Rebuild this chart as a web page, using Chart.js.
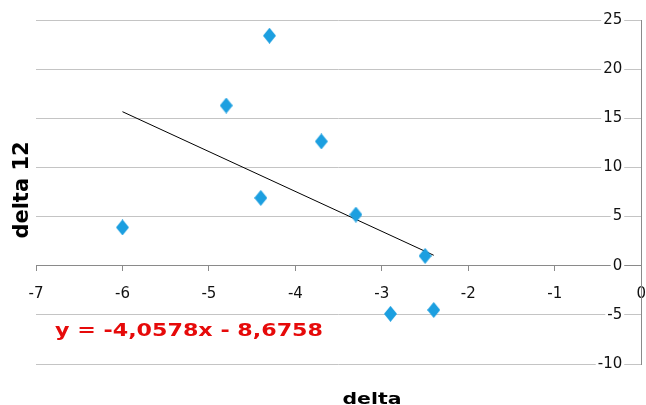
<!DOCTYPE html>
<html>
<head>
<meta charset="utf-8">
<script src="https://cdn.jsdelivr.net/npm/chart.js@4/dist/chart.umd.min.js"></script>
<style>
  html, body { margin: 0; padding: 0; background: #ffffff; overflow: hidden; }
  #wrap { width: 646px; height: 405px; position: relative; overflow: hidden; }
  #c { position: absolute; left: 0; top: 0; }
</style>
</head>
<body>
<div id="wrap"><canvas id="c" width="660" height="405"></canvas></div>
<script>
// ---- data ----
const deltaX   = [-6.0, -4.8, -4.3, -4.4, -3.7, -3.3, -2.5, -2.9, -2.4];
const delta12Y = [3.9, 16.3, 23.4, 6.9, 12.65, 5.2, 1.0, -4.9, -4.5];
const trendSlope = -4.0578;
const trendIntercept = -8.6758;
const equationText = 'y = -4,0578x - 8,6758';
const xTitle = 'delta';
const yTitle = 'delta 12';
const xTickMin = -7, xTickMax = 0, xTickStep = 1;
const yTickMin = -10, yTickMax = 25, yTickStep = 5;

const points = deltaX.map((x, i) => ({ x: x, y: delta12Y[i] }));
const xLo = Math.min(...deltaX), xHi = Math.max(...deltaX);
const trendPoints = [
  { x: xLo, y: trendSlope * xLo + trendIntercept },
  { x: xHi, y: trendSlope * xHi + trendIntercept }
];

// diamond marker (slightly taller than wide, like the reference)
const marker = document.createElement('canvas');
marker.width = 13; marker.height = 16;
(function () {
  const m = marker.getContext('2d');
  m.fillStyle = '#1c9fe0';
  m.beginPath();
  m.moveTo(6.5, 0); m.lineTo(13, 8); m.lineTo(6.5, 16); m.lineTo(0, 8);
  m.closePath(); m.fill();
})();

const labelsPlugin = {
  id: 'labelsPlugin',
  afterDraw(chart) {
    const ctx = chart.ctx;
    const fitText = (txt, font, color, x, y, targetW, align) => {
      ctx.save();
      ctx.font = font;
      ctx.fillStyle = color;
      ctx.textBaseline = 'alphabetic';
      const w = ctx.measureText(txt).width;
      const s = targetW / w;
      ctx.translate(x, y);
      ctx.scale(s, 1);
      ctx.textAlign = align;
      ctx.fillText(txt, 0, 0);
      ctx.restore();
    };
    // equation
    fitText(equationText, 'bold 18px "DejaVu Sans"', '#e60a0a', 55, 336, 268, 'left');
    // x title
    fitText(xTitle, 'bold 16px "DejaVu Sans"', '#000000', 372, 404, 59, 'center');
    // y title (rotated)
    ctx.save();
    ctx.font = 'bold 21px "DejaVu Sans"';
    ctx.fillStyle = '#000000';
    ctx.translate(28, 190);
    ctx.rotate(-Math.PI / 2);
    ctx.textAlign = 'center';
    ctx.textBaseline = 'alphabetic';
    ctx.fillText(yTitle, 0, 0);
    ctx.restore();
  }
};

// chart-area geometry: x from 36 to 641 px for -7..0 ; labels of y end ~19 px left of the axis
const yLabelGapUnits = 19 * (xTickMax - xTickMin) / 605;

new Chart(document.getElementById('c'), {
  type: 'scatter',
  data: {
    datasets: [
      {
        label: 'delta 12',
        data: points,
        pointStyle: marker,
        pointRadius: 7,
        pointHoverRadius: 7,
        backgroundColor: '#1c9fe0',
        borderColor: '#1c9fe0',
        order: 1
      },
      {
        type: 'line',
        label: 'trend',
        data: trendPoints,
        borderColor: '#000000',
        borderWidth: 1,
        pointRadius: 0,
        fill: false,
        order: 2
      }
    ]
  },
  options: {
    responsive: false,
    animation: false,
    devicePixelRatio: 1,
    layout: { autoPadding: false, padding: { left: 36, right: 5, top: 20, bottom: 41 } },
    plugins: {
      legend: { display: false },
      tooltip: { enabled: false }
    },
    scales: {
      x: {
        type: 'linear',
        position: { y: 0 },
        min: xTickMin, max: xTickMax,
        ticks: {
          stepSize: xTickStep,
          padding: 14,
          color: '#111111',
          font: { family: '"DejaVu Sans"', size: 15 },
          maxRotation: 0
        },
        grid: {
          drawOnChartArea: false,
          drawTicks: true,
          tickLength: 5,
          color: '#8a8a8a'
        },
        border: { display: true, color: '#8a8a8a', width: 1 }
      },
      y: {
        type: 'linear',
        position: { x: 0 },
        min: yTickMin, max: yTickMax,
        ticks: { stepSize: yTickStep, display: false },
        grid: { drawTicks: false, color: '#c4c4c4' },
        border: { display: true, color: '#8a8a8a', width: 1 }
      },
      yLabels: {
        type: 'linear',
        axis: 'y',
        position: { x: -yLabelGapUnits },
        min: yTickMin, max: yTickMax,
        ticks: {
          stepSize: yTickStep,
          padding: 0,
          color: '#111111',
          font: { family: '"DejaVu Sans"', size: 15 },
          showLabelBackdrop: true,
          backdropColor: '#ffffff',
          backdropPadding: { x: 2, y: 0 }
        },
        grid: { display: false, drawTicks: false },
        border: { display: false }
      }
    }
  },
  plugins: [labelsPlugin]
});
</script>
</body>
</html>
